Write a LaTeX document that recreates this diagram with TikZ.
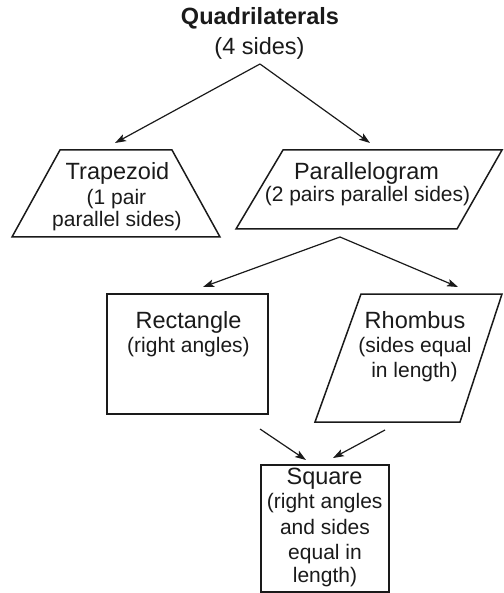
\documentclass[tikz,border=0pt]{standalone}
\usepackage{fontspec}
\setmainfont{Liberation Sans}
\usetikzlibrary{arrows.meta}
\definecolor{ink}{HTML}{1A1A1A}
\begin{document}
\begin{tikzpicture}[x=1pt,y=-1pt,
  shapeline/.style={draw=ink, line width=1.5pt, line join=miter},
  arr/.style={draw=ink, line width=1.2pt,-{Stealth[length=11pt,width=7.5pt,inset=2.5pt]}},
  big/.style={text=ink, font=\fontsize{23.5}{26}\selectfont, anchor=base, inner sep=0pt},
  bigb/.style={text=ink, font=\fontsize{23.5}{26}\selectfont\bfseries, anchor=base, inner sep=0pt},
  small/.style={text=ink, font=\fontsize{21}{24}\selectfont, anchor=base, inner sep=0pt}]
\useasboundingbox (0,0) rectangle (503,593);

% shapes
\draw[shapeline] (60,150) -- (172,150) -- (220,237) -- (12,237) -- cycle;
\draw[shapeline] (283,150) -- (502,150) -- (457,229) -- (236,229) -- cycle;
\draw[shapeline] (107,294) rectangle (268,414);
\draw[shapeline] (361,294) -- (502,294) -- (460,422) -- (315,422) -- cycle;
\draw[shapeline] (261,465) rectangle (389,592);

% texts
\node[bigb] (title) at (260,25) {Quadrilaterals};
\node[big] (titleb) at (259.5,55) {(4 sides)};
\node[big] (trap) at (117.5,180) {Trapezoid};
\node[small] (trapb) at (116.5,205) {(1 pair};
\node[small] (trapc) at (117,227) {parallel sides)};
\node[big] (para) at (366.5,180) {Parallelogram};
\node[small] (parab) at (367.5,202) {(2 pairs parallel sides)};
\node[big] (rect) at (188.5,328) {Rectangle};
\node[small] (rectb) at (188.5,352) {(right angles)};
\node[big] (rhom) at (415,328) {Rhombus};
\node[small] (rhomb) at (415,352) {(sides equal};
\node[small] (rhomc) at (414.5,377) {in length)};
\node[big] (sq) at (324.5,484) {Square};
\node[small] (sqb) at (324.7,508) {(right angles};
\node[small] (sqc) at (325,534) {and sides};
\node[small] (sqd) at (325,559) {equal in};
\node[small] (sqe) at (325,582) {length)};

% connector ends
\coordinate (qa) at (260,64);
\coordinate (qt) at (115,143);
\coordinate (qp) at (370,143);
\coordinate (pa) at (340,237);
\coordinate (pr) at (203,287);
\coordinate (ph) at (458,287);
\coordinate (rs) at (260,429);
\coordinate (rse) at (306,460);
\coordinate (hs) at (385,430);
\coordinate (hse) at (333,458);

\draw[arr] (qa) -- (qt);
\draw[arr] (qa) -- (qp);
\draw[arr] (pa) -- (pr);
\draw[arr] (pa) -- (ph);
\draw[arr] (rs) -- (rse);
\draw[arr] (hs) -- (hse);
\end{tikzpicture}
\end{document}
